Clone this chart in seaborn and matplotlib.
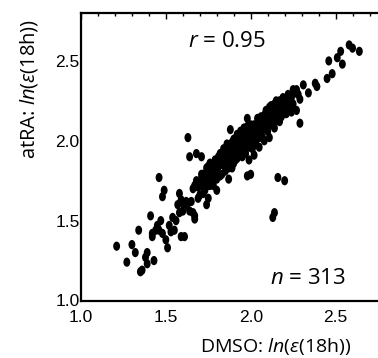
import matplotlib
matplotlib.use("Agg")
import matplotlib.pyplot as plt
from matplotlib.path import Path
from matplotlib.transforms import Affine2D
from matplotlib.ticker import MultipleLocator
import seaborn as sns
import pandas as pd

# ---- data ----
dmso = [
    1.21, 1.27, 1.30, 1.32, 1.34, 1.35, 1.36, 1.38, 1.39, 1.39, 1.41, 1.42, 1.42, 1.43, 1.44,
    1.45, 1.46, 1.46, 1.47, 1.48, 1.48, 1.49, 1.50, 1.51, 1.54, 1.55, 1.56, 1.58, 1.58, 1.59,
    1.61, 1.60, 1.62, 1.63, 1.64, 1.65, 1.66, 1.67, 1.67, 1.68, 1.68, 1.70, 1.71, 1.72, 1.72,
    1.74, 1.74, 1.75, 1.75, 1.76, 1.77, 1.78, 1.79, 1.80, 1.81, 1.82, 1.83, 1.84, 1.85, 1.87,
    1.88, 1.88, 1.89, 1.90, 1.91, 1.92, 1.93, 1.94, 1.95, 1.95, 1.97, 1.98, 1.98, 1.99, 1.99,
    2.00, 2.01, 2.02, 2.03, 2.04, 2.05, 2.06, 2.07, 2.08, 2.09, 2.10, 2.11, 2.12, 2.13, 2.14,
    2.16, 2.15, 2.17, 2.17, 2.13, 2.14, 2.20, 2.20, 2.21, 2.23, 2.24,
    2.25, 2.27, 2.29, 2.31, 2.27, 2.29, 2.34, 2.38, 2.39, 2.45, 2.48, 2.46, 2.51, 2.54, 2.53,
    2.58, 2.60, 2.64,
    1.52, 1.53, 1.57, 1.59, 1.60, 1.61, 1.63, 1.64, 1.66, 1.67, 1.68, 1.69, 1.69, 1.70, 1.71,
    1.72, 1.73, 1.73, 1.74, 1.75, 1.76, 1.76, 1.77, 1.77, 1.78, 1.78, 1.79, 1.79, 1.80, 1.80,
    1.81, 1.81, 1.82, 1.82, 1.83, 1.83, 1.84, 1.84, 1.85, 1.85, 1.86, 1.86, 1.87, 1.87, 1.88,
    1.88, 1.89, 1.89, 1.90, 1.90, 1.91, 1.91, 1.92, 1.92, 1.93, 1.93, 1.94, 1.94, 1.95, 1.95,
    1.96, 1.96, 1.97, 1.97, 1.98, 1.98, 1.99, 1.99, 2.00, 2.00, 2.01, 2.01, 2.02, 2.02, 2.03,
    2.03, 2.04, 2.04, 2.05, 2.05, 2.06, 2.06, 2.07, 2.07, 2.08, 2.08, 2.09, 2.09, 2.10, 2.10,
    2.11, 2.11, 2.12, 2.12, 2.13, 2.13, 2.14, 2.14, 2.15, 2.15, 2.16, 2.16, 2.17, 2.17, 2.18,
    2.18, 2.19, 2.19, 2.20, 2.21, 2.21, 2.22, 2.22, 2.23, 2.24, 2.25, 2.26, 2.28, 1.74, 1.76,
    1.71,
]
atra = [
    1.34, 1.24, 1.35, 1.30, 1.44, 1.18, 1.19, 1.27, 1.30, 1.23, 1.53, 1.40, 1.42, 1.25, 1.44,
    1.47, 1.77, 1.44, 1.50, 1.65, 1.42, 1.69, 1.38, 1.33, 1.52, 1.44, 1.50, 1.67, 1.55, 1.40,
    1.40, 1.61, 1.62, 2.02, 1.90, 1.62, 1.55, 1.53, 1.51, 1.92, 1.73, 1.75, 1.90, 1.71, 1.67,
    1.75, 1.60, 1.64, 1.72, 1.80, 1.83, 1.72, 1.76, 1.69, 1.84, 1.78, 1.86, 1.93, 1.89, 1.76,
    2.07, 1.90, 1.83, 1.94, 1.88, 1.97, 2.04, 1.94, 1.98, 1.90, 2.03, 1.78, 2.14, 1.88, 1.96,
    1.79, 2.00, 1.91, 2.09, 2.02, 1.96, 2.04, 2.12, 2.00, 2.07, 2.16, 2.02, 2.10, 2.13, 2.08,
    1.77, 2.17, 2.25, 2.12, 1.52, 1.55, 1.75, 2.17, 2.21, 2.26, 2.18,
    2.32, 2.32, 2.26, 2.35, 2.19, 2.11, 2.30, 2.36, 2.34, 2.39, 2.42, 2.50, 2.52, 2.48, 2.56,
    2.60, 2.58, 2.56,
    1.47, 1.43, 1.60, 1.63, 1.56, 1.59, 1.61, 1.56, 1.70, 1.72, 1.75, 1.64, 1.71, 1.66, 1.76,
    1.79, 1.69, 1.74, 1.80, 1.84, 1.72, 1.76, 1.80, 1.73, 1.85, 1.76, 1.81, 1.88, 1.76, 1.84,
    1.90, 1.79, 1.85, 1.92, 1.79, 1.89, 1.85, 1.95, 1.81, 1.94, 1.87, 1.98, 1.91, 1.83, 1.96,
    1.85, 1.99, 1.92, 1.86, 2.01, 1.93, 1.97, 2.04, 1.89, 1.94, 2.00, 2.06, 1.97, 1.91, 2.03,
    1.95, 2.08, 2.00, 1.92, 2.03, 2.09, 1.98, 2.05, 2.01, 2.10, 1.95, 2.06, 2.02, 2.10, 1.98,
    2.05, 2.08, 2.14, 2.02, 2.10, 2.07, 2.15, 2.10, 2.02, 2.16, 2.09, 2.12, 2.19, 2.06, 2.13,
    2.15, 2.21, 2.12, 2.22, 2.16, 2.20, 2.12, 2.23, 2.19, 2.25, 2.15, 2.22, 2.19, 2.23, 2.15,
    2.25, 2.21, 2.27, 2.23, 2.17, 2.25, 2.21, 2.29, 2.24, 2.27, 2.23, 2.30, 2.29, 1.83, 1.86,
    1.79,
]
x_ticks = [1.0, 1.5, 2.0, 2.5]
y_ticks = [1.0, 1.5, 2.0, 2.5]
x_label = "DMSO: $\\mathit{ln}$($\\mathit{ε}$(18h))"
y_label = "atRA: $\\mathit{ln}$($\\mathit{ε}$(18h))"
r_text = "$\\mathit{r}$ = 0.95"
n_text = "$\\mathit{n}$ = 313"

df = pd.DataFrame({"dmso": dmso, "atra": atra})

sns.set_style("white")
plt.rcParams["mathtext.fontset"] = "custom"
plt.rcParams["mathtext.rm"] = "Open Sans"
plt.rcParams["mathtext.it"] = "Open Sans:italic"
plt.rcParams["font.family"] = ["Open Sans", "DejaVu Sans"]

fig = plt.figure(figsize=(3.78, 3.58), dpi=100)
ax = fig.add_axes([81 / 378, 1 - 300.5 / 358, 297 / 378, 287.5 / 358])

ell = Path.unit_circle().transformed(Affine2D().scale(0.75, 1.0))
sns.scatterplot(data=df, x="dmso", y="atra", color="black", marker=ell, s=44,
                edgecolor="none", linewidth=0, ax=ax, legend=False)

ax.set_xlim(1.0, 2.75)
ax.set_ylim(1.0, 2.8)
ax.set_xticks(x_ticks)
ax.set_yticks(y_ticks)
ax.set_xticklabels([f"{v:.1f}" for v in x_ticks])
ax.set_yticklabels([f"{v:.1f}" for v in y_ticks])
ax.xaxis.set_minor_locator(MultipleLocator(0.1))
ax.yaxis.set_minor_locator(MultipleLocator(0.1))
ax.tick_params(which="both", direction="in", top=True, right=False, color="black", width=1.0)
ax.tick_params(which="major", length=4, pad=1)
ax.tick_params(which="minor", length=2.5)
ax.tick_params(axis="x", which="major", pad=7)
for lab in ax.get_xticklabels() + ax.get_yticklabels():
    lab.set_family(["DejaVu Sans Condensed", "Liberation Sans Narrow", "Liberation Sans"])
    lab.set_fontsize(12.5)
    lab.set_color("black")

for side in ["left", "bottom", "top"]:
    ax.spines[side].set_linewidth(1.6)
    ax.spines[side].set_color("black")
ax.spines["right"].set_visible(False)

ax.set_xlabel(x_label, fontsize=14, color="black", va="center", ha="center")
ax.xaxis.set_label_coords(0.655, -0.16)
ax.set_ylabel(y_label, fontsize=14.5, color="black", va="center", ha="center")
ax.yaxis.set_label_coords(-0.175, 0.735)

ax.text(0.49, 0.90, r_text, transform=ax.transAxes, fontsize=16, ha="center", va="center", color="black")
ax.text(0.763, 0.077, n_text, transform=ax.transAxes, fontsize=16, ha="center", va="center", color="black")

fig.savefig("out.png", dpi=100)
